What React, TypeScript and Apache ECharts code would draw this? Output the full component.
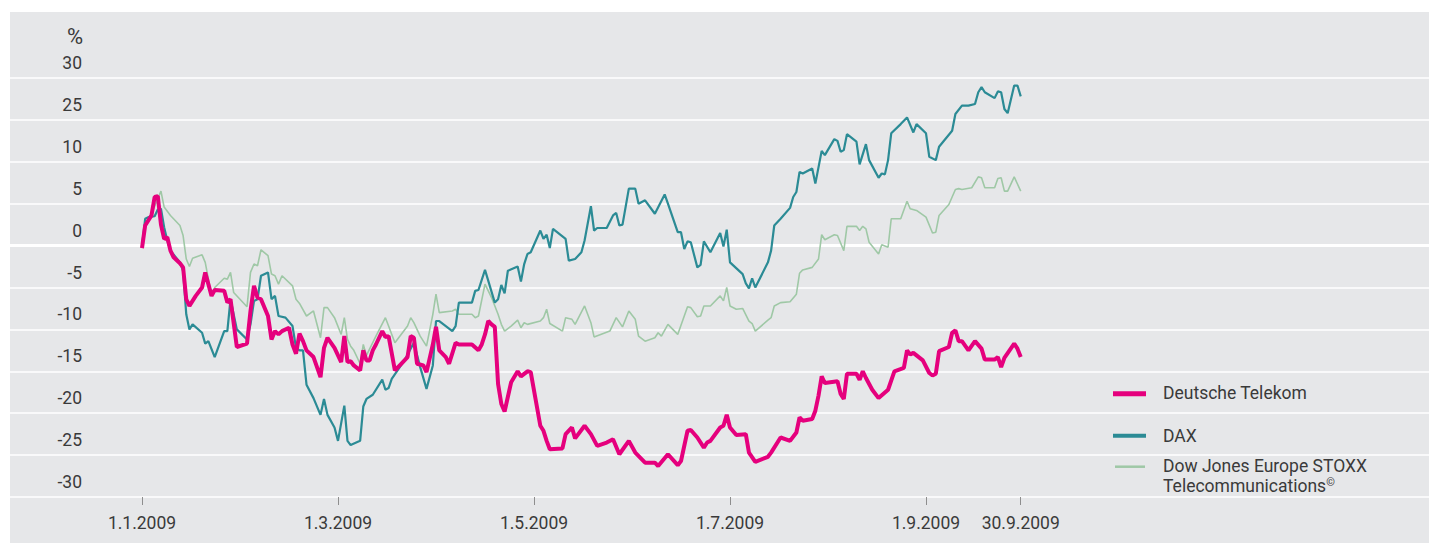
import React, { useEffect, useRef } from "react";
import * as echarts from "echarts";

// ---- data (dates are MM-DD in 2009, values in %) ----
const telekom: [string, number][] = [
  ["01-01", -0.3], ["01-02", 2.4], ["01-04", 3.6], ["01-05", 5.8], ["01-06", 5.9], ["01-07", 2.5], ["01-08", 0.8], ["01-09", 1.0], ["01-10", -0.6], ["01-11", -1.4], ["01-13", -2.1], ["01-14", -2.6], ["01-15", -6.4], ["01-16", -7.2], ["01-18", -6.0], ["01-20", -5.0], ["01-21", -3.2], ["01-23", -6.0], ["01-24", -5.3], ["01-27", -5.4], ["01-28", -6.8], ["01-29", -6.4], ["01-31", -12.1],
  ["02-03", -11.7], ["02-04", -7.8], ["02-05", -4.8], ["02-06", -6.2], ["02-07", -6.4], ["02-09", -8.4], ["02-10", -11.2], ["02-11", -10.2], ["02-12", -10.6], ["02-13", -10.2], ["02-15", -9.8], ["02-16", -11.8], ["02-17", -12.9], ["02-18", -10.5], ["02-19", -11.4], ["02-20", -12.5], ["02-22", -13.3], ["02-24", -15.7], ["02-25", -12.2], ["02-26", -11.0], ["02-28", -12.2],
  ["03-02", -13.9], ["03-03", -10.8], ["03-04", -13.9], ["03-05", -13.8], ["03-06", -14.3], ["03-08", -14.9], ["03-09", -12.5], ["03-10", -13.7], ["03-11", -13.7], ["03-12", -12.5], ["03-13", -11.8], ["03-15", -10.2], ["03-16", -10.9], ["03-17", -10.8], ["03-19", -14.9], ["03-21", -14.1], ["03-23", -13.3], ["03-24", -10.8], ["03-25", -11.0], ["03-26", -14.1], ["03-28", -14.3], ["03-29", -15.1], ["03-31", -11.8],
  ["04-01", -9.7], ["04-02", -12.5], ["04-04", -13.3], ["04-05", -14.1], ["04-07", -11.6], ["04-08", -11.8], ["04-12", -11.8], ["04-14", -12.5], ["04-15", -11.8], ["04-16", -10.6], ["04-17", -9.0], ["04-18", -9.4], ["04-19", -9.7], ["04-20", -16.5], ["04-21", -18.9], ["04-22", -19.8], ["04-24", -16.3], ["04-26", -15.0], ["04-27", -15.6], ["04-29", -15.0], ["04-30", -15.1],
  ["05-03", -21.5], ["05-04", -22.1], ["05-05", -23.3], ["05-06", -24.3], ["05-10", -24.2], ["05-11", -22.5], ["05-13", -21.7], ["05-14", -23.0], ["05-17", -21.5], ["05-19", -22.5], ["05-21", -23.9], ["05-24", -23.5], ["05-26", -23.1], ["05-28", -24.9], ["05-31", -23.3],
  ["06-02", -24.7], ["06-05", -25.9], ["06-08", -25.9], ["06-09", -26.3], ["06-12", -24.9], ["06-15", -26.2], ["06-16", -25.7], ["06-18", -22.1], ["06-19", -22.0], ["06-21", -22.9], ["06-23", -24.1], ["06-24", -23.5], ["06-25", -23.3], ["06-28", -21.7], ["06-29", -21.5], ["06-30", -20.2],
  ["07-01", -21.7], ["07-03", -22.6], ["07-06", -22.5], ["07-07", -24.7], ["07-09", -25.8], ["07-13", -25.2], ["07-14", -24.7], ["07-17", -22.9], ["07-20", -23.3], ["07-22", -22.3], ["07-23", -20.5], ["07-24", -20.9], ["07-27", -20.7], ["07-28", -19.7], ["07-29", -17.9], ["07-30", -15.6], ["07-31", -16.4],
  ["08-04", -16.2], ["08-05", -17.7], ["08-06", -18.3], ["08-07", -15.3], ["08-10", -15.3], ["08-11", -16.0], ["08-12", -15.0], ["08-13", -15.8], ["08-15", -17.2], ["08-17", -18.2], ["08-20", -17.2], ["08-22", -15.0], ["08-25", -14.6], ["08-26", -12.5], ["08-27", -13.0], ["08-28", -12.8], ["08-31", -13.7],
  ["09-02", -15.2], ["09-03", -15.5], ["09-04", -15.3], ["09-05", -12.6], ["09-08", -12.1], ["09-09", -10.4], ["09-10", -10.1], ["09-11", -11.4], ["09-12", -11.4], ["09-14", -12.5], ["09-16", -11.4], ["09-18", -12.3], ["09-19", -13.6], ["09-22", -13.6], ["09-23", -13.3], ["09-24", -14.5], ["09-25", -13.4], ["09-28", -11.7], ["09-29", -12.3], ["09-30", -13.3],
];

const dax: [string, number][] = [
  ["01-01", -0.1], ["01-02", 3.2], ["01-03", 3.4], ["01-05", 3.5], ["01-06", 4.3], ["01-07", 4.4], ["01-08", 2.2], ["01-09", 0.6], ["01-10", -0.6], ["01-13", -2.0], ["01-14", -3.0], ["01-15", -8.2], ["01-16", -10.0], ["01-17", -9.4], ["01-20", -10.4], ["01-21", -11.7], ["01-22", -11.4], ["01-24", -13.3], ["01-27", -10.2], ["01-28", -10.2], ["01-29", -6.4], ["01-31", -10.0],
  ["02-03", -11.2], ["02-04", -9.4], ["02-05", -6.6], ["02-06", -6.4], ["02-07", -3.6], ["02-09", -3.2], ["02-10", -6.4], ["02-11", -6.0], ["02-12", -8.4], ["02-14", -8.6], ["02-16", -9.6], ["02-17", -12.2], ["02-18", -12.5], ["02-19", -12.5], ["02-20", -16.6], ["02-22", -18.2], ["02-24", -20.2], ["02-25", -18.3], ["02-26", -20.2], ["02-28", -21.7],
  ["03-01", -23.3], ["03-03", -19.1], ["03-04", -23.3], ["03-05", -23.8], ["03-08", -23.3], ["03-09", -19.2], ["03-10", -18.3], ["03-12", -17.8], ["03-15", -16.0], ["03-16", -17.2], ["03-17", -17.0], ["03-18", -15.9], ["03-22", -13.7], ["03-25", -11.6], ["03-27", -14.5], ["03-29", -17.1], ["03-31", -14.3],
  ["04-01", -9.0], ["04-02", -9.0], ["04-06", -10.2], ["04-07", -9.6], ["04-08", -6.8], ["04-12", -6.8], ["04-13", -5.4], ["04-14", -5.3], ["04-16", -2.9], ["04-19", -6.8], ["04-20", -6.4], ["04-21", -4.7], ["04-22", -5.7], ["04-23", -3.0], ["04-26", -2.5], ["04-27", -4.3], ["04-28", -2.2], ["04-29", -1.0], ["04-30", -0.8],
  ["05-03", 1.8], ["05-04", 0.8], ["05-05", 1.3], ["05-06", -0.3], ["05-07", 2.0], ["05-11", 0.8], ["05-12", -1.8], ["05-14", -1.6], ["05-16", -0.8], ["05-17", 0.6], ["05-19", 4.7], ["05-20", 1.8], ["05-21", 2.1], ["05-24", 2.1], ["05-26", 3.6], ["05-27", 3.9], ["05-28", 2.4], ["05-29", 2.5], ["05-31", 6.8],
  ["06-02", 6.8], ["06-03", 5.0], ["06-05", 5.4], ["06-08", 3.8], ["06-11", 6.1], ["06-12", 5.0], ["06-15", 1.6], ["06-16", 1.6], ["06-17", -0.4], ["06-18", 0.5], ["06-19", 0.4], ["06-21", -2.6], ["06-22", -2.3], ["06-23", 0.5], ["06-25", -0.8], ["06-28", 1.5], ["06-29", -0.1], ["06-30", 1.9],
  ["07-01", -2.0], ["07-05", -3.4], ["07-06", -4.5], ["07-07", -5.1], ["07-08", -3.9], ["07-09", -5.0], ["07-13", -2.0], ["07-14", -0.6], ["07-15", 2.4], ["07-17", 3.2], ["07-20", 4.5], ["07-21", 5.8], ["07-22", 6.4], ["07-23", 8.8], ["07-24", 8.6], ["07-27", 9.2], ["07-28", 7.4], ["07-30", 11.3], ["07-31", 10.8],
  ["08-03", 12.7], ["08-04", 12.5], ["08-05", 11.2], ["08-06", 11.4], ["08-07", 13.3], ["08-10", 12.4], ["08-11", 9.7], ["08-13", 12.1], ["08-14", 10.2], ["08-17", 8.1], ["08-18", 8.6], ["08-19", 8.5], ["08-20", 10.2], ["08-21", 13.4], ["08-24", 14.5], ["08-26", 15.3], ["08-28", 13.5], ["08-29", 14.5],
  ["09-01", 13.4], ["09-02", 10.6], ["09-04", 10.2], ["09-05", 11.8], ["09-09", 13.7], ["09-10", 15.7], ["09-12", 16.7], ["09-14", 16.7], ["09-16", 16.9], ["09-17", 18.3], ["09-18", 18.9], ["09-19", 18.3], ["09-22", 17.6], ["09-23", 18.4], ["09-24", 18.3], ["09-25", 16.3], ["09-26", 15.8], ["09-28", 19.1], ["09-29", 19.1], ["09-30", 17.8],
];

const stoxxTelecom: [string, number][] = [
  ["01-01", -0.1], ["01-02", 2.4], ["01-04", 3.8], ["01-06", 5.6], ["01-07", 6.5], ["01-08", 4.6], ["01-10", 3.6], ["01-13", 2.4], ["01-14", 1.2], ["01-15", -1.6], ["01-16", -2.5], ["01-17", -1.5], ["01-20", -1.1], ["01-21", -2.0], ["01-23", -6.0], ["01-24", -5.0], ["01-27", -3.9], ["01-28", -4.0], ["01-29", -3.2], ["01-30", -5.6],
  ["02-03", -7.3], ["02-04", -3.2], ["02-05", -2.2], ["02-06", -2.4], ["02-07", -0.5], ["02-09", -1.2], ["02-10", -3.4], ["02-11", -3.6], ["02-12", -4.6], ["02-13", -3.6], ["02-16", -4.8], ["02-17", -6.4], ["02-18", -6.9], ["02-20", -8.4], ["02-22", -7.8], ["02-24", -11.0], ["02-25", -7.4], ["02-26", -7.4], ["02-28", -8.6],
  ["03-02", -10.6], ["03-03", -8.6], ["03-04", -11.2], ["03-05", -12.0], ["03-06", -12.5], ["03-08", -14.1], ["03-09", -11.8], ["03-10", -13.1], ["03-13", -10.8], ["03-16", -8.6], ["03-17", -9.6], ["03-19", -11.6], ["03-23", -9.6], ["03-24", -8.6], ["03-25", -9.2], ["03-27", -10.8], ["03-29", -12.0], ["03-31", -8.2],
  ["04-01", -5.8], ["04-02", -8.0], ["04-06", -7.8], ["04-07", -7.6], ["04-08", -8.2], ["04-12", -8.2], ["04-13", -8.6], ["04-14", -8.4], ["04-16", -4.6], ["04-18", -6.2], ["04-20", -8.2], ["04-21", -9.4], ["04-22", -10.2], ["04-24", -9.6], ["04-26", -8.9], ["04-27", -9.8], ["04-28", -9.2], ["04-29", -9.4],
  ["05-03", -9.0], ["05-04", -8.6], ["05-05", -7.6], ["05-06", -9.3], ["05-10", -10.2], ["05-11", -8.6], ["05-13", -8.8], ["05-14", -9.4], ["05-17", -7.2], ["05-19", -9.2], ["05-20", -10.9], ["05-25", -10.2], ["05-27", -8.6], ["05-29", -9.7], ["05-31", -7.8],
  ["06-02", -8.8], ["06-03", -10.8], ["06-05", -11.4], ["06-08", -11.0], ["06-09", -10.4], ["06-10", -10.8], ["06-12", -9.4], ["06-15", -10.6], ["06-18", -7.3], ["06-19", -7.4], ["06-21", -8.5], ["06-22", -8.4], ["06-23", -7.2], ["06-25", -7.2], ["06-28", -6.0], ["06-29", -6.6], ["06-30", -5.0],
  ["07-01", -7.2], ["07-03", -7.6], ["07-05", -7.5], ["07-07", -9.0], ["07-08", -9.3], ["07-09", -10.2], ["07-13", -8.9], ["07-14", -8.6], ["07-15", -7.2], ["07-17", -6.8], ["07-20", -6.7], ["07-22", -5.8], ["07-23", -3.3], ["07-24", -2.9], ["07-27", -2.6], ["07-29", -1.6], ["07-30", 1.3], ["07-31", 0.7],
  ["08-03", 1.3], ["08-04", 1.2], ["08-06", -0.6], ["08-07", 2.3], ["08-10", 2.3], ["08-11", 1.8], ["08-12", 2.3], ["08-13", 2.0], ["08-14", 0.4], ["08-17", -1.0], ["08-18", 0.1], ["08-20", -0.2], ["08-21", 3.2], ["08-24", 3.2], ["08-26", 5.3], ["08-27", 4.4], ["08-29", 4.2],
  ["09-01", 3.4], ["09-03", 1.5], ["09-04", 1.6], ["09-05", 3.6], ["09-08", 4.9], ["09-10", 6.7], ["09-11", 6.8], ["09-12", 6.7], ["09-15", 6.9], ["09-17", 8.2], ["09-18", 8.1], ["09-19", 6.9], ["09-22", 6.9], ["09-23", 8.0], ["09-24", 8.1], ["09-25", 6.5], ["09-26", 6.5], ["09-28", 8.2], ["09-30", 6.5],
];

const xTickDates = ["01-01", "03-01", "05-01", "07-01", "09-01", "09-30"];
const xTickLabels = ["1.1.2009", "1.3.2009", "1.5.2009", "1.7.2009", "1.9.2009", "30.9.2009"];
const yTickValues = [-30, -25, -20, -15, -10, -5, 0, 5, 10, 15, 20];
const yTickLabels = ["-30", "-25", "-20", "-15", "-10", "-5", "0", "5", "10", "25", "30"];
const zeroValue = 0;

const seriesNames = ["Deutsche Telekom", "DAX", "Dow Jones Europe STOXX Telecommunications"];

// ---- scale helpers: the x axis gives every month the same width ----
const DAYS_IN_MONTH = [31, 28, 31, 30, 31, 30, 31, 31, 30, 31, 30, 31];
function monthPos(md: string): number {
  const [m, d] = md.split("-").map(Number);
  return m - 1 + (d - 1) / DAYS_IN_MONTH[m - 1];
}
const toPoints = (arr: [string, number][]) => arr.map(([d, v]) => [monthPos(d), v]);

const FONT = "Roboto, 'Liberation Sans', Arial, sans-serif";
const TEXT = "#3a3a3a";
const MAGENTA = "#e5007d";
const TEAL = "#2b8b95";
const SAGE = "#9fc8a6";

const W = 1419;
const H = 531;
const MONTH_PX = 98;
const ORIGIN_PX = 132;
const X_MIN = -ORIGIN_PX / MONTH_PX;
const X_MAX = (W - ORIGIN_PX) / MONTH_PX;

export default function App() {
  const ref = useRef<HTMLDivElement>(null);
  useEffect(() => {
    if (!ref.current) return;
    const chart = echarts.init(ref.current, undefined, { renderer: "svg" });
    const tickPos = xTickDates.map(monthPos);
    chart.setOption({
      animation: false,
      backgroundColor: "#e6e7e9",
      textStyle: { fontFamily: FONT },
      grid: { left: 0, right: 0, top: 66, bottom: 46, containLabel: false },
      xAxis: {
        type: "value",
        min: X_MIN,
        max: X_MAX,
        axisLine: { show: false, onZero: false },
        splitLine: { show: false },
        axisTick: {
          show: true,
          customValues: tickPos,
          length: 8,
          lineStyle: { color: "#8e8e8e", width: 1 },
        },
        axisLabel: {
          customValues: tickPos,
          margin: 17,
          fontSize: 17.5,
          fontFamily: FONT,
          color: TEXT,
          formatter: (v: number) => {
            const i = tickPos.findIndex((p) => Math.abs(p - v) < 1e-6);
            return i >= 0 ? xTickLabels[i] : "";
          },
        },
      },
      yAxis: {
        type: "value",
        min: -30,
        max: 20,
        interval: 5,
        axisLine: { show: false },
        axisTick: { show: false },
        splitLine: { show: true, lineStyle: { color: "#ffffff", width: 1.5 } },
        axisLabel: {
          inside: true,
          align: "right",
          margin: 72,
          verticalAlign: "bottom",
          lineHeight: 30,
          fontSize: 17.5,
          fontFamily: FONT,
          color: TEXT,
          showMinLabel: true,
          showMaxLabel: true,
          formatter: (v: number) => {
            const i = yTickValues.indexOf(v);
            return i >= 0 ? yTickLabels[i] : "";
          },
        },
      },
      series: [
        {
          name: "zero",
          type: "line",
          data: [[X_MIN, zeroValue], [X_MAX, zeroValue]],
          z: 1,
          silent: true,
          showSymbol: false,
          symbol: "none",
          lineStyle: { color: "#ffffff", width: 3 },
        },
        {
          name: seriesNames[2],
          type: "line",
          data: toPoints(stoxxTelecom),
          showSymbol: false,
          symbol: "none",
          z: 2,
          lineStyle: { color: SAGE, width: 1.6 },
        },
        {
          name: seriesNames[1],
          type: "line",
          data: toPoints(dax),
          showSymbol: false,
          symbol: "none",
          z: 3,
          lineStyle: { color: TEAL, width: 2.2 },
        },
        {
          name: seriesNames[0],
          type: "line",
          data: toPoints(telekom),
          showSymbol: false,
          symbol: "none",
          z: 4,
          lineStyle: { color: MAGENTA, width: 4 },
        },
      ],
      graphic: [
        {
          type: "text",
          silent: true,
          style: { text: "%", x: 73, y: 24, align: "right", verticalAlign: "middle", font: `22px ${FONT}`, fill: TEXT },
        },
        { type: "line", silent: true, shape: { x1: 1103, y1: 381.7, x2: 1136, y2: 381.7 }, style: { stroke: MAGENTA, lineWidth: 5 } },
        { type: "line", silent: true, shape: { x1: 1103, y1: 423.7, x2: 1136, y2: 423.7 }, style: { stroke: TEAL, lineWidth: 4 } },
        { type: "line", silent: true, shape: { x1: 1105, y1: 454.7, x2: 1135, y2: 454.7 }, style: { stroke: SAGE, lineWidth: 2.5 } },
        {
          type: "text",
          silent: true,
          style: { text: seriesNames[0], x: 1153, y: 381.3, verticalAlign: "middle", font: `17.5px ${FONT}`, fill: TEXT },
        },
        {
          type: "text",
          silent: true,
          style: { text: seriesNames[1], x: 1153, y: 424, verticalAlign: "middle", font: `17.5px ${FONT}`, fill: TEXT },
        },
        {
          type: "text",
          silent: true,
          style: { text: "Dow Jones Europe STOXX", x: 1153, y: 454, verticalAlign: "middle", font: `17.5px ${FONT}`, fill: TEXT },
        },
        {
          type: "text",
          silent: true,
          style: {
            text: "Telecommunications{sup|©}",
            x: 1153,
            y: 474,
            verticalAlign: "middle",
            font: `17.5px ${FONT}`,
            fill: TEXT,
            rich: { sup: { fontSize: 11, fontFamily: FONT, fill: TEXT, verticalAlign: "top", padding: [0, 0, 8, 0] } },
          },
        },
      ],
    });
    return () => chart.dispose();
  }, []);
  return (
    <div
      ref={ref}
      style={{ position: "absolute", left: 10, top: 12, width: W, height: H }}
    />
  );
}
